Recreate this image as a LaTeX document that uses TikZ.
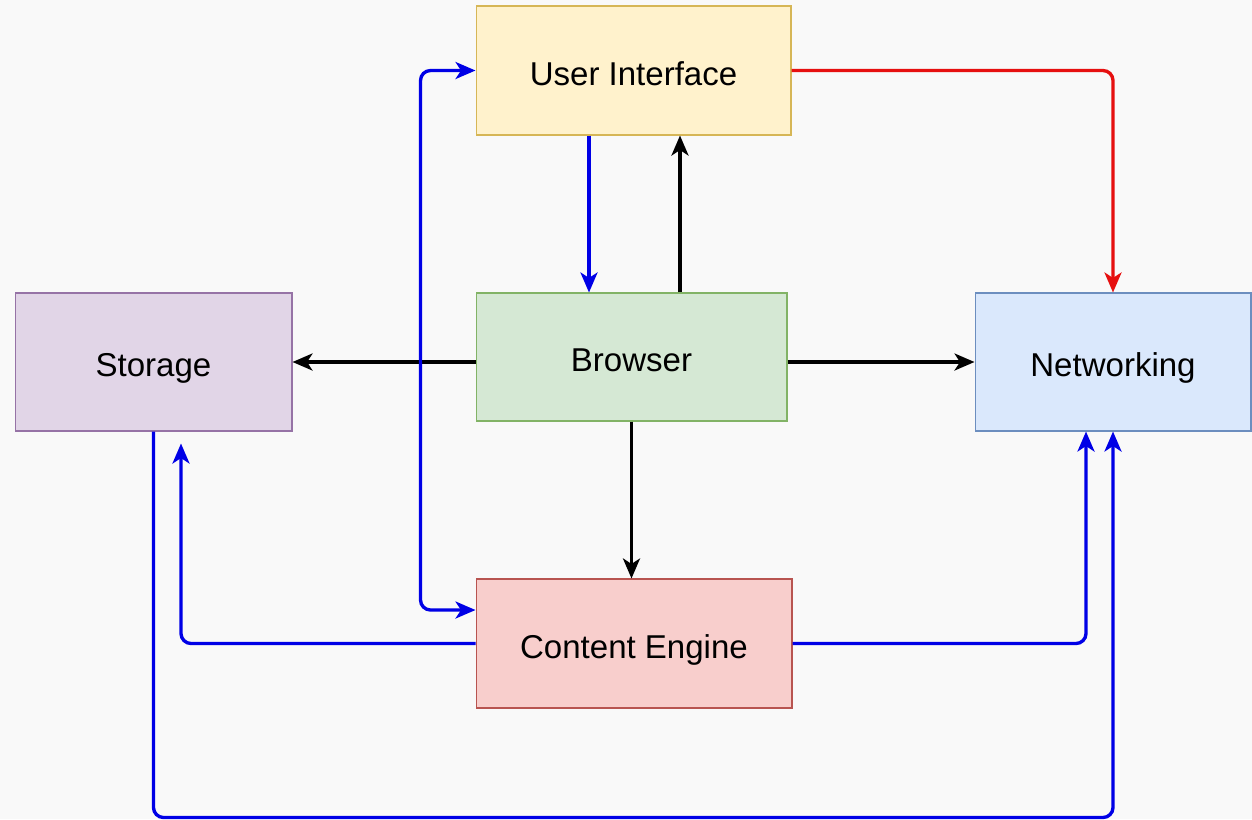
\documentclass[tikz,border=0pt]{standalone}
\usepackage{fontspec}
\setmainfont{Liberation Sans}
\usepackage{tikz}
\usetikzlibrary{arrows.meta}

\definecolor{bgc}{HTML}{F9F9F9}
\definecolor{uifill}{HTML}{FFF2CC}\definecolor{uiline}{HTML}{D6B656}
\definecolor{stfill}{HTML}{E1D5E7}\definecolor{stline}{HTML}{9673A6}
\definecolor{brfill}{HTML}{D5E8D4}\definecolor{brline}{HTML}{82B366}
\definecolor{nwfill}{HTML}{DAE8FC}\definecolor{nwline}{HTML}{6C8EBF}
\definecolor{cefill}{HTML}{F8CECC}\definecolor{celine}{HTML}{B85450}
\definecolor{linkblue}{HTML}{0000E6}
\definecolor{linkred}{HTML}{E61010}

\begin{document}
\begin{tikzpicture}[x=0.02cm, y=-0.02cm,
  >={Stealth[length=0.4cm, width=0.34cm, inset=0.11cm]},
  box/.style={draw, line width=0.6pt, inner sep=0pt, text height=17pt, text depth=0pt,
    font=\fontsize{18.8}{22}\selectfont},
  blk/.style={->, line width=1.9pt, black},
  blu/.style={->, line width=1.9pt, linkblue, rounded corners=0.2cm},
  rd/.style={->, line width=1.9pt, linkred, rounded corners=0.2cm}]
\useasboundingbox[fill=bgc] (0,0) rectangle (1252,819);

\node[box, fill=uifill, draw=uiline, minimum width=6.3cm, minimum height=2.58cm] (ui) at (633.5,70.5) {User Interface};
\node[box, fill=stfill, draw=stline, minimum width=5.54cm, minimum height=2.76cm] (storage) at (153.5,362) {Storage};
\node[box, fill=brfill, draw=brline, minimum width=6.22cm, minimum height=2.56cm] (browser) at (631.5,357) {Browser};
\node[box, fill=nwfill, draw=nwline, minimum width=5.52cm, minimum height=2.76cm] (net) at (1113,362) {Networking};
\node[box, fill=cefill, draw=celine, minimum width=6.32cm, minimum height=2.58cm] (content) at (634,643.5) {Content Engine};

\draw[blu] ([xshift=-0.89cm]ui.south) -- ([xshift=-0.89cm]ui.south |- browser.north);
\draw[blk] ([xshift=0.97cm]browser.north) -- ([xshift=0.97cm]browser.north |- ui.south);
\draw[rd] (ui.east) -| (net.north);

\draw[blk] (browser.west |- storage.east) -- (storage.east);
\draw[blk] (browser.east |- net.west) -- (net.west);
\draw[blk] (browser.south) -- (browser.south |- content.north);

\draw[blu, <->] ([yshift=0.67cm]content.west) -- ++(-55,0) |- (ui.west);
\draw[blu] (content.west) -| ([xshift=0.55cm, yshift=-0.24cm]storage.south);
\draw[blu] (content.east) -| ([xshift=-0.54cm]net.south);
\draw[blu] (storage.south) -- ++(0,386) -| (net.south);
\end{tikzpicture}
\end{document}
